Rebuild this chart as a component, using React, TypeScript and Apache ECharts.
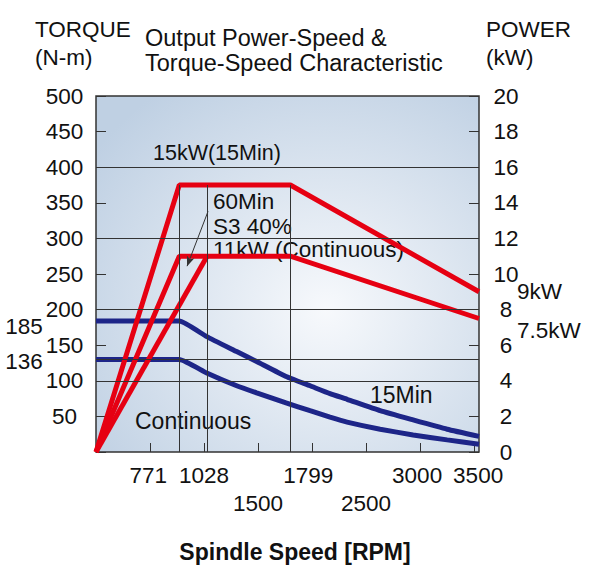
import React, { useEffect, useRef } from "react";
import * as echarts from "echarts";

// ---- data ----
const speedMax = 3545;
const speedTicks = [500, 1000, 1500, 2000, 2500, 3000, 3500];
const speedLabelsRow1 = [771, 1028, 1799, 3000, 3500];
const speedLabelsRow2 = [1500, 2500];
const torqueMarks = [185, 136];
const powerMarks = [9, 7.5];

// power curves (kW) vs spindle speed (RPM)
const power15Min = [[0, 0], [771, 15], [1799, 15], [3545, 9]];
const powerS3 = [[0, 0], [771, 11], [1799, 11], [3545, 7.5]];
const powerContRise = [[0, 0], [1028, 11]];

// torque curves (N-m) vs spindle speed (RPM)
const torque15Min = [
  [0, 184], [771, 184], [1025, 162], [1302, 141], [1487, 127], [1759, 106],
  [1981, 93], [2166, 82], [2324, 74], [2630, 58], [2935, 45], [3250, 32], [3545, 22],
];
const torqueCont = [
  [0, 130], [771, 130], [1025, 111], [1302, 93], [1487, 83], [1759, 69],
  [1981, 58], [2166, 49], [2324, 42], [2630, 32], [2935, 24], [3250, 17], [3545, 11],
];

// reference lines
const torqueGridLines = [100, 130, 200, 300, 400];
const speedGridLines = [771, 1028, 1799];
const speedGridTop = 375; // torque equivalent of the 15 kW level
const leaderFrom = [1037, 338];
const leaderTo = [843, 261];

const FONT = "'Liberation Sans', Arial, Helvetica, sans-serif";
const RED = "#e60012";
const BLUE = "#1d2588";
const INK = "#111";

function txt(text: string, x: number, y: number, size: number, extra: any = {}) {
  return {
    type: "text",
    x,
    y,
    silent: true,
    style: {
      text,
      fontSize: size,
      fontFamily: FONT,
      fill: INK,
      align: "left",
      verticalAlign: "middle",
      ...extra,
    },
  };
}

export default function App() {
  const ref = useRef<HTMLDivElement>(null);
  useEffect(() => {
    const chart = echarts.init(ref.current!, null, { renderer: "svg" });
    const labelShift: Record<number, string> = {
      771: "a",
      1028: "b",
      1799: "c",
      3000: "b",
      3500: "d",
    };
    const tickStyle = { color: "#333", width: 1 };
    const option: any = {
      animation: false,
      backgroundColor: "#fff",
      textStyle: { fontFamily: FONT },
      grid: {
        left: 96,
        top: 96,
        right: 118,
        bottom: 122,
        show: true,
        borderColor: "#333",
        borderWidth: 1.5,
        backgroundColor: new echarts.graphic.RadialGradient(0.6, 0.6, 0.75, [
          { offset: 0, color: "#f7f9fc" },
          { offset: 1, color: "#bfd0e3" },
        ]),
      },
      xAxis: [
        {
          type: "value",
          min: 0,
          max: speedMax,
          position: "bottom",
          axisLine: { show: false, onZero: false },
          splitLine: { show: false },
          axisTick: {
            show: true,
            inside: true,
            length: 9,
            customValues: speedTicks,
            lineStyle: tickStyle,
          },
          axisLabel: {
            customValues: speedLabelsRow1,
            margin: 12,
            fontSize: 22.5,
            color: INK,
            fontFamily: FONT,
            formatter: (v: number) => `{${labelShift[v] || "n"}|${v}}`,
            rich: {
              n: { fontSize: 22.5, fontFamily: FONT, color: INK },
              a: { fontSize: 22.5, fontFamily: FONT, color: INK, padding: [0, 62, 0, 0] },
              b: { fontSize: 22.5, fontFamily: FONT, color: INK, padding: [0, 6, 0, 0] },
              c: { fontSize: 22.5, fontFamily: FONT, color: INK, padding: [0, 0, 0, 36] },
              d: { fontSize: 22.5, fontFamily: FONT, color: INK, padding: [0, 0, 0, 8] },
            },
          },
        },
        {
          type: "value",
          min: 0,
          max: speedMax,
          position: "bottom",
          axisLine: { show: false, onZero: false },
          splitLine: { show: false },
          axisTick: { show: false },
          axisLabel: {
            customValues: speedLabelsRow2,
            margin: 40,
            fontSize: 22.5,
            color: INK,
            fontFamily: FONT,
            formatter: (v: number) => String(v),
          },
        },
      ],
      yAxis: [
        {
          type: "value",
          min: 0,
          max: 500,
          interval: 50,
          position: "left",
          axisLine: { show: false, onZero: false },
          splitLine: { show: false },
          axisTick: { show: true, inside: true, length: 10, lineStyle: tickStyle },
          axisLabel: {
            align: "center",
            margin: 31.5,
            fontSize: 22.5,
            color: INK,
            fontFamily: FONT,
            formatter: (v: number) => (v === 0 ? "" : String(v)),
          },
        },
        {
          type: "value",
          min: 0,
          max: 20,
          interval: 2,
          position: "right",
          axisLine: { show: false, onZero: false },
          splitLine: { show: false },
          axisTick: { show: true, inside: true, length: 10, lineStyle: tickStyle },
          axisLabel: {
            align: "center",
            margin: 27,
            fontSize: 22.5,
            color: INK,
            fontFamily: FONT,
          },
        },
        {
          type: "value",
          min: 0,
          max: 500,
          position: "left",
          axisLine: { show: false, onZero: false },
          splitLine: { show: false },
          axisTick: { show: false },
          axisLabel: {
            customValues: torqueMarks,
            align: "center",
            margin: 72,
            formatter: (v: number) => `{m|${v}}`,
            rich: { m: { fontSize: 22.5, fontFamily: FONT, color: INK, padding: [13, 0, 0, 0] } },
          },
        },
        {
          type: "value",
          min: 0,
          max: 20,
          position: "right",
          axisLine: { show: false, onZero: false },
          splitLine: { show: false },
          axisTick: { show: false },
          axisLabel: {
            customValues: powerMarks,
            align: "left",
            margin: 38,
            formatter: (v: number) => (v === 7.5 ? `{s|${v}kW}` : `{n|${v}kW}`),
            rich: {
              n: { fontSize: 22.5, fontFamily: FONT, color: INK },
              s: { fontSize: 22.5, fontFamily: FONT, color: INK, padding: [24, 0, 0, 0] },
            },
          },
        },
      ],
      graphic: [
        txt("TORQUE", 35, 29, 22.5),
        txt("(N-m)", 35, 57, 22.5),
        txt("POWER", 486, 29, 22.5),
        txt("(kW)", 486, 57, 22.5),
        txt("Output Power-Speed &", 145, 38, 23.5),
        txt("Torque-Speed Characteristic", 145, 63, 23.5),
        txt("15kW(15Min)", 153, 153, 21.5),
        txt("60Min", 213, 201, 22.5),
        txt("S3 40%", 213, 226, 22.5),
        txt("11kW (Continuous)", 213, 249, 22.5),
        txt("Continuous", 135, 421, 23),
        txt("15Min", 370, 395, 23),
        txt("Spindle Speed [RPM]", 295, 552, 23, { align: "center", fontWeight: "bold" }),
      ],
      series: [
        {
          type: "line",
          name: "refs",
          xAxisIndex: 0,
          yAxisIndex: 0,
          data: [[0, 0]],
          showSymbol: false,
          silent: true,
          lineStyle: { opacity: 0 },
          z: 1,
          markLine: {
            silent: true,
            symbol: ["none", "none"],
            label: { show: false },
            lineStyle: { color: "#333", width: 1, type: "solid" },
            data: [
              ...torqueGridLines.map((t) => ({ yAxis: t })),
              ...speedGridLines.map((s) => [{ coord: [s, 0] }, { coord: [s, speedGridTop] }]),
              [
                { coord: leaderFrom, symbol: "none" },
                { coord: leaderTo, symbol: "arrow", symbolSize: [6, 10] },
              ],
            ],
          },
        },
        {
          type: "line",
          name: "15Min power",
          xAxisIndex: 0,
          yAxisIndex: 1,
          data: power15Min,
          showSymbol: false,
          symbol: "none",
          lineStyle: { color: RED, width: 5 },
          z: 3,
        },
        {
          type: "line",
          name: "S3 power",
          xAxisIndex: 0,
          yAxisIndex: 1,
          data: powerS3,
          showSymbol: false,
          symbol: "none",
          lineStyle: { color: RED, width: 5 },
          z: 3,
        },
        {
          type: "line",
          name: "Continuous power",
          xAxisIndex: 0,
          yAxisIndex: 1,
          data: powerContRise,
          showSymbol: false,
          symbol: "none",
          lineStyle: { color: RED, width: 5 },
          z: 3,
        },
        {
          type: "line",
          name: "15Min torque",
          xAxisIndex: 0,
          yAxisIndex: 0,
          data: torque15Min,
          showSymbol: false,
          symbol: "none",
          smooth: 0.15,
          lineStyle: { color: BLUE, width: 5 },
          z: 2,
        },
        {
          type: "line",
          name: "Continuous torque",
          xAxisIndex: 0,
          yAxisIndex: 0,
          data: torqueCont,
          showSymbol: false,
          symbol: "none",
          smooth: 0.15,
          lineStyle: { color: BLUE, width: 5 },
          z: 2,
        },
      ],
    };
    chart.setOption(option);
    return () => chart.dispose();
  }, []);
  return (
    <div
      ref={ref}
      style={{ position: "fixed", left: 0, top: 0, width: 597, height: 574, background: "#fff" }}
    />
  );
}
